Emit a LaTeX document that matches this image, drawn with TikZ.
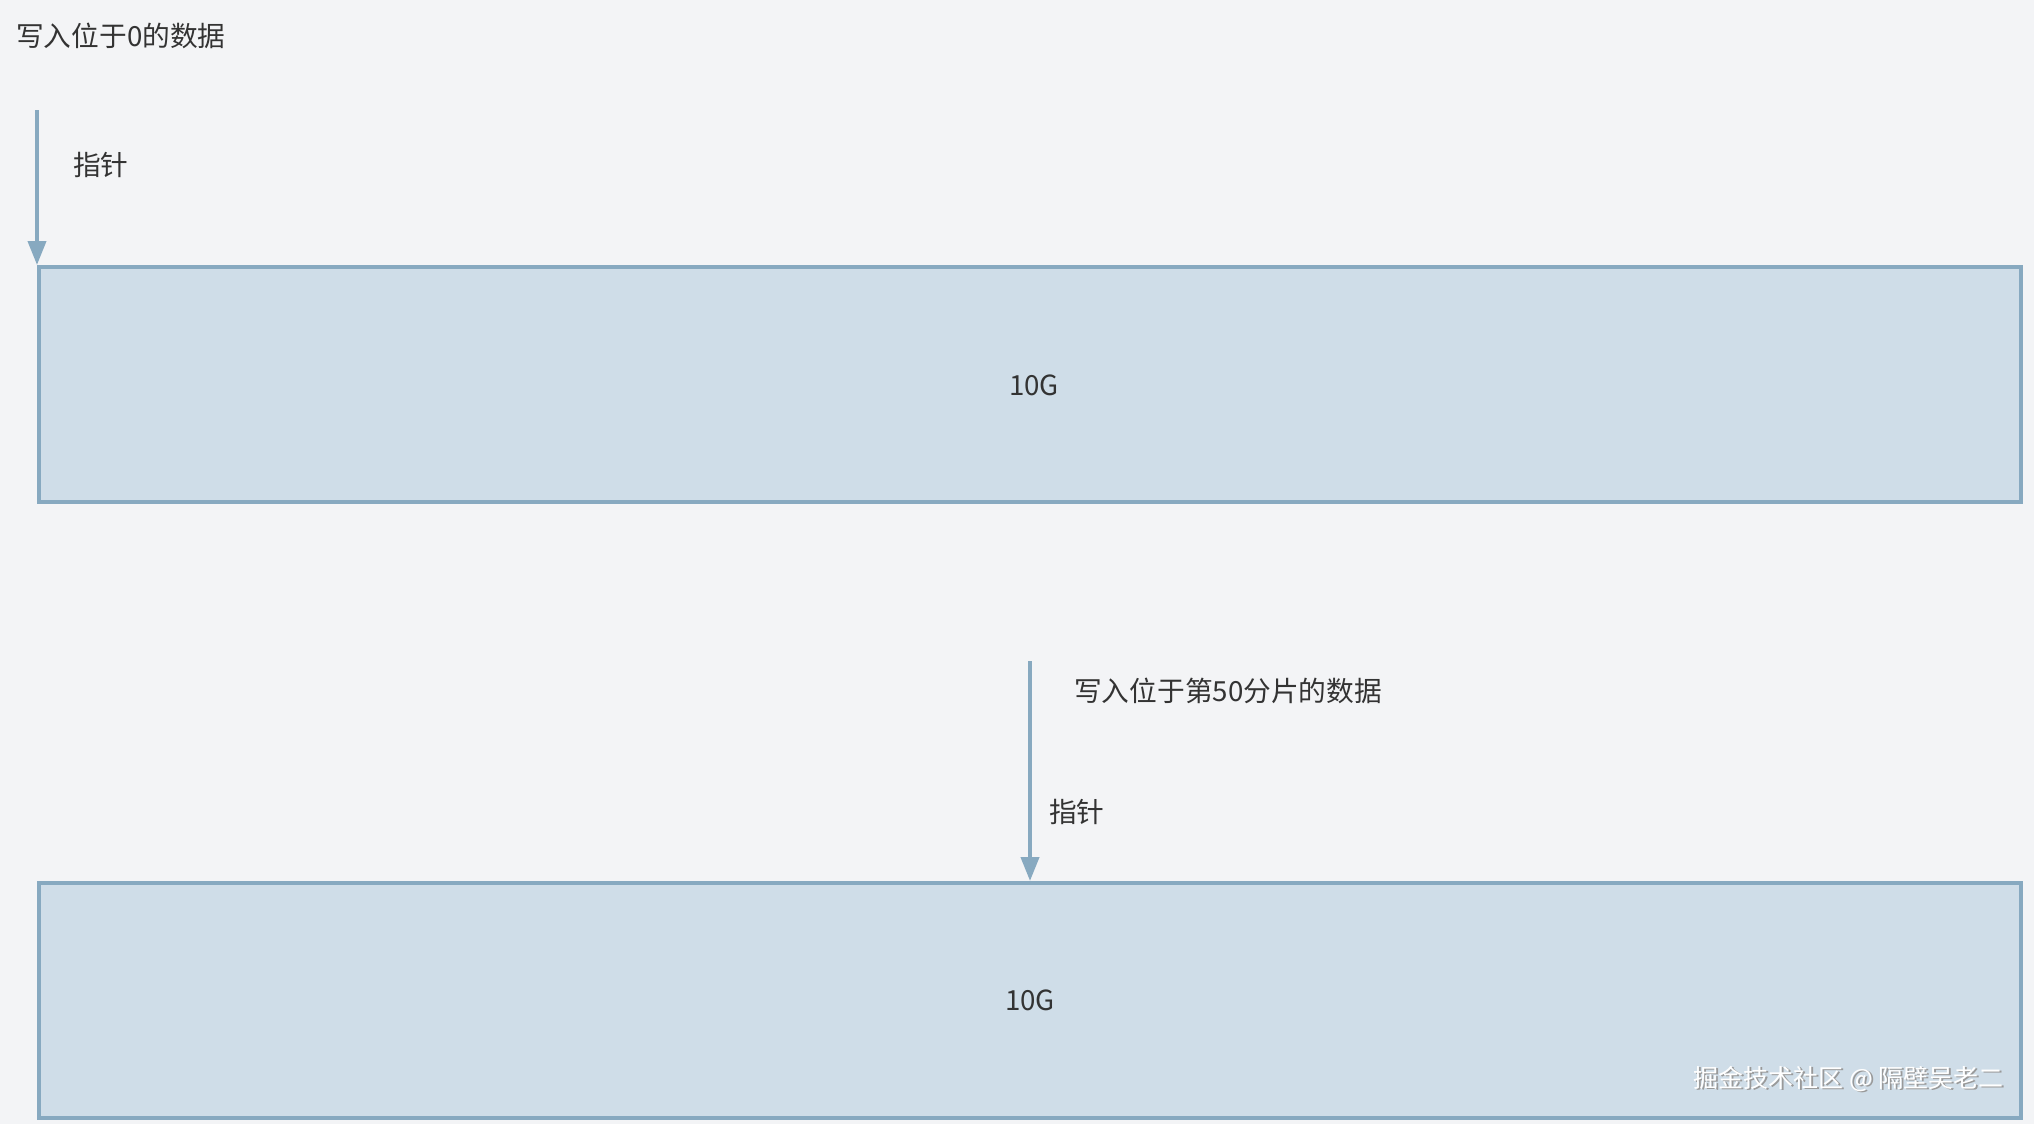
\documentclass[tikz,border=0pt]{standalone}
\usepackage{fontspec}
\setmainfont{Noto Sans CJK SC}
\usetikzlibrary{arrows.meta}
\definecolor{bg}{HTML}{F3F4F6}
\definecolor{edge}{HTML}{87A9C0}
\definecolor{boxfill}{HTML}{CFDDE8}
\definecolor{txt}{HTML}{333333}
\tikzset{
  blk/.style={draw=edge, fill=boxfill, line width=4pt, minimum width=1982pt, minimum height=235pt, inner sep=0pt},
  num/.style={inner sep=0pt, text=txt, font=\fontsize{27.7}{32}\selectfont},
  lbl/.style={anchor=west, inner sep=0pt, text=txt, font=\fontsize{27.7}{32}\selectfont},
  ptr/.style={draw=edge, line width=4pt, -{Triangle[width=18pt,length=24pt]}},
  wm/.style={anchor=east, inner sep=0pt, font=\fontsize{25}{29}\selectfont}
}
\begin{document}
\begin{tikzpicture}[x=1pt,y=-1pt]
\fill[bg] (0,0) rectangle (2034,1124);
\useasboundingbox (0,0) rectangle (2034,1124);
\node[blk] (r1) at (1030,384.5) {};
\node[num] (g1) at (1034,385) {10G};
\node[blk] (r2) at (1030,1000.5) {};
\node[num] (g2) at (1030,1000) {10G};
\node[lbl] (t1) at (16,36) {写入位于0的数据};
\node[lbl] (z1) at (73,165) {指针};
\node[lbl] (t2) at (1074,691) {写入位于第50分片的数据};
\node[lbl] (z2) at (1049,812) {指针};
\coordinate (p1) at (37,110);
\coordinate (p2) at (1030,661);
\draw[ptr] (p1) -- (p1 |- r1.north);
\draw[ptr] (p2) -- (p2 |- r2.north);
\node[wm, text=gray!80] (wms) at (2005.5,1080.5) {掘金技术社区 @ 隔壁吴老二};
\node[wm, text=white] (wm) at (2004,1079) {掘金技术社区 @ 隔壁吴老二};
\end{tikzpicture}
\end{document}
